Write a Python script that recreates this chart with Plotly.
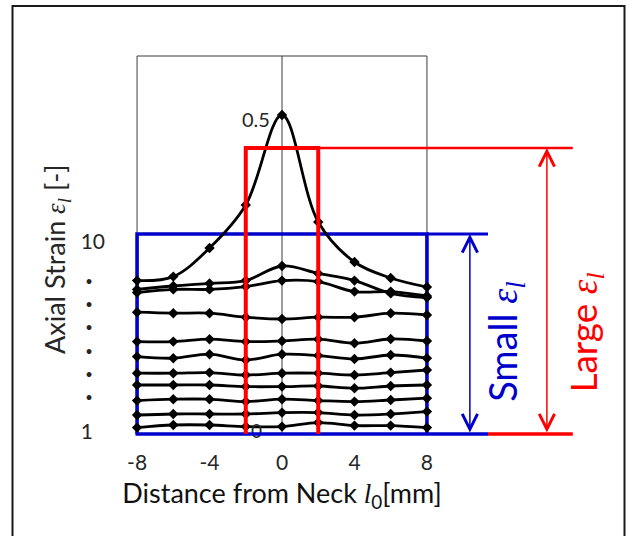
import plotly.graph_objects as go

# Sample positions along the gauge (mm from the neck)
distance_mm = [-8, -6, -4, -2, 0, 2, 4, 6, 8]

# Axial strain profiles, one per loading step (arbitrary level units, bottom -> top)
strain_step_01 = [0.32, 0.45, 0.45, 0.37, 0.37, 0.57, 0.42, 0.42, 0.32]
strain_step_02 = [0.95, 1.00, 1.00, 1.00, 1.07, 1.07, 0.95, 1.00, 1.12]
strain_step_03 = [1.67, 1.74, 1.74, 1.62, 1.74, 1.67, 1.62, 1.70, 1.79]
strain_step_04 = [2.45, 2.45, 2.45, 2.37, 2.37, 2.40, 2.29, 2.40, 2.45]
strain_step_05 = [3.04, 3.04, 3.07, 2.95, 3.04, 3.04, 2.95, 3.07, 3.20]
strain_step_06 = [3.87, 3.79, 3.99, 3.70, 3.99, 3.92, 3.75, 3.95, 3.79]
strain_step_07 = [4.62, 4.62, 4.74, 4.62, 4.65, 4.74, 4.54, 4.75, 4.65]
strain_step_08 = [6.09, 6.04, 6.04, 5.84, 5.75, 5.84, 5.84, 6.04, 5.95]
strain_step_09 = [7.07, 7.23, 7.23, 7.37, 7.67, 7.62, 7.12, 7.12, 6.90]
strain_step_10 = [7.23, 7.40, 7.53, 7.67, 8.40, 8.03, 7.67, 7.03, 6.82]
strain_step_11 = [7.67, 7.87, 9.30, 11.45, 15.95, 10.60, 8.60, 7.80, 7.35]

strain_steps = [strain_step_01, strain_step_02, strain_step_03, strain_step_04,
                strain_step_05, strain_step_06, strain_step_07, strain_step_08,
                strain_step_09, strain_step_10, strain_step_11]

# Y-axis labels (schematic strain scale 1 ... 10)
DOT = "<span style=\"font-size:13px\">\u2022</span>\u2007"
ytick_vals = [0.1, 1.98, 3.12, 4.25, 5.45, 6.6, 7.79, 9.6]
ytick_text = ["1\u2007", DOT, DOT, DOT, DOT, DOT, DOT, "10"]
xtick_vals = [-8, -4, 0, 4, 8]

# Evaluation windows
small_window = (-8, 8)      # whole gauge length
small_top = 10.0
large_window = (-2, 2)      # neck region only
large_top = 14.3
frame_top = 18.9

# Positions of the bracket arrows / labels right of the plot (x in mm units)
small_ext = 11.37
large_ext = 16.05
small_arrow_x = 10.37
large_arrow_x = 14.62
small_label_x = 12.3
large_label_x = 16.7

# Layout geometry
W, H = 627, 536
M_L, M_R, M_T, M_B = 128, 191, 54, 92
X_RANGE = [-8.5, 8.5]
Y_RANGE = [-0.5, 19.0]

BLUE = "#0000cc"
RED = "#ff0000"
FONT = "Lato"
TXT = "#262626"
MATH = "font-family:'Liberation Serif'"

EPS_L = (f"<span style=\"{MATH}\"><i>ε</i></span>"
         f"<sub><span style=\"{MATH}\"><i>l</i></span></sub>")


def xpaper(xv):
    return (xv - X_RANGE[0]) / (X_RANGE[1] - X_RANGE[0])


def pxpaper(px):
    return (px - M_L) / (W - M_L - M_R)


def pypaper(py):
    return (H - M_B - py) / (H - M_T - M_B)


fig = go.Figure()

for curve in strain_steps:
    fig.add_trace(go.Scatter(
        x=distance_mm, y=curve, mode="lines+markers",
        line=dict(color="black", width=2.8, shape="spline", smoothing=1.0),
        marker=dict(symbol="diamond", size=8, color="black"),
        showlegend=False, hoverinfo="skip"))

# start label of the profile scale, tucked under the base line
fig.add_trace(go.Scatter(
    x=[-1.4], y=[0.05], mode="text", text=["0"],
    textfont=dict(family=FONT, size=19, color=TXT),
    cliponaxis=False, showlegend=False, hoverinfo="skip"))

shapes = []
# thin frame of the measurement region
for xv in (-8, 0, 8):
    shapes.append(dict(type="line", xref="x", yref="y", x0=xv, x1=xv, y0=0, y1=frame_top,
                       line=dict(color="#3c3c3c", width=1), layer="below"))
shapes.append(dict(type="line", xref="x", yref="y", x0=-8, x1=8, y0=frame_top, y1=frame_top,
                   line=dict(color="#3c3c3c", width=1), layer="below"))

# small-strain window (blue)
x0, x1 = small_window
shapes.append(dict(type="path", xref="x", yref="y",
                   path=f"M{x0},0 L{x0},{small_top} L{x1},{small_top} L{x1},0",
                   line=dict(color=BLUE, width=3.6), layer="below"))
shapes.append(dict(type="line", xref="paper", yref="y", x0=xpaper(x1), x1=xpaper(small_ext),
                   y0=small_top, y1=small_top, line=dict(color=BLUE, width=3), layer="below"))
shapes.append(dict(type="line", xref="paper", yref="y", x0=xpaper(x0) - 0.005, x1=xpaper(small_ext),
                   y0=0, y1=0, line=dict(color=BLUE, width=3.4), layer="above"))

# large-strain window (red)
x0, x1 = large_window
shapes.append(dict(type="path", xref="x", yref="y",
                   path=f"M{x0},0 L{x0},{large_top} L{x1},{large_top} L{x1},0",
                   line=dict(color=RED, width=4), layer="above"))
shapes.append(dict(type="line", xref="paper", yref="y", x0=xpaper(x1), x1=xpaper(large_ext),
                   y0=large_top, y1=large_top, line=dict(color=RED, width=2.4), layer="above"))
shapes.append(dict(type="line", xref="paper", yref="y", x0=xpaper(small_ext), x1=xpaper(large_ext),
                   y0=0, y1=0, line=dict(color=RED, width=3.4), layer="above"))

# outer border
shapes.append(dict(type="rect", xref="paper", yref="paper",
                   x0=pxpaper(12.5), x1=pxpaper(624.5), y0=pypaper(545), y1=pypaper(6),
                   line=dict(color="#1a1a1a", width=2), layer="below"))

annotations = [
    dict(text=f"Axial Strain {EPS_L} [-]", xref="paper", yref="y",
         x=pxpaper(56), y=8.7, xanchor="center", yanchor="middle",
         textangle=-90, showarrow=False,
         font=dict(family=FONT, size=27, color=TXT)),
    dict(text="0.5", xref="x", yref="y", x=0, y=max(strain_step_11), xanchor="right",
         xshift=-10, yshift=-4, showarrow=False, font=dict(family=FONT, size=20, color=TXT)),
    dict(text=f"Small {EPS_L}", xref="paper", yref="y",
         x=xpaper(small_label_x), y=4.6, xanchor="center", yanchor="middle",
         textangle=-90, showarrow=False,
         font=dict(family=FONT, size=38, color=BLUE)),
    dict(text=f"Large {EPS_L}", xref="paper", yref="y",
         x=xpaper(large_label_x), y=5.05, xanchor="center", yanchor="middle",
         textangle=-90, showarrow=False,
         font=dict(family=FONT, size=37, color=RED)),
]
for ax_x, top, col in ((small_arrow_x, small_top, BLUE), (large_arrow_x, large_top, RED)):
    annotations.append(dict(
        text="", xref="paper", yref="y", x=xpaper(ax_x), y=top,
        axref="pixel", ayref="y", ax=0, ay=0,
        showarrow=True, arrowside="end+start", arrowhead=5, startarrowhead=5,
        arrowsize=2, startarrowsize=2, arrowwidth=1.5, arrowcolor=col,
        standoff=0, startstandoff=0))

fig.update_layout(
    width=W, height=H,
    margin=dict(l=M_L, r=M_R, t=M_T, b=M_B, autoexpand=False),
    paper_bgcolor="white", plot_bgcolor="white",
    font=dict(family=FONT, color=TXT),
    shapes=shapes, annotations=annotations,
    xaxis=dict(range=X_RANGE, tickvals=xtick_vals, ticktext=[str(v) for v in xtick_vals],
               showgrid=False, zeroline=False, showline=False, ticks="",
               tickfont=dict(family=FONT, size=21, color=TXT), ticklabelstandoff=4,
               title=dict(text="Distance from Neck "
                               f"<span style=\"{MATH}\"><i>l</i></span><sub>0</sub>[mm]",
                          font=dict(family=FONT, size=27, color="#111"), standoff=11),
               fixedrange=True),
    yaxis=dict(range=Y_RANGE, tickvals=ytick_vals, ticktext=ytick_text,
               showgrid=False, zeroline=False, showline=False, ticks="",
               tickfont=dict(family=FONT, size=21, color=TXT), ticklabelstandoff=22,
               fixedrange=True),
)

fig.write_html("out.html")
